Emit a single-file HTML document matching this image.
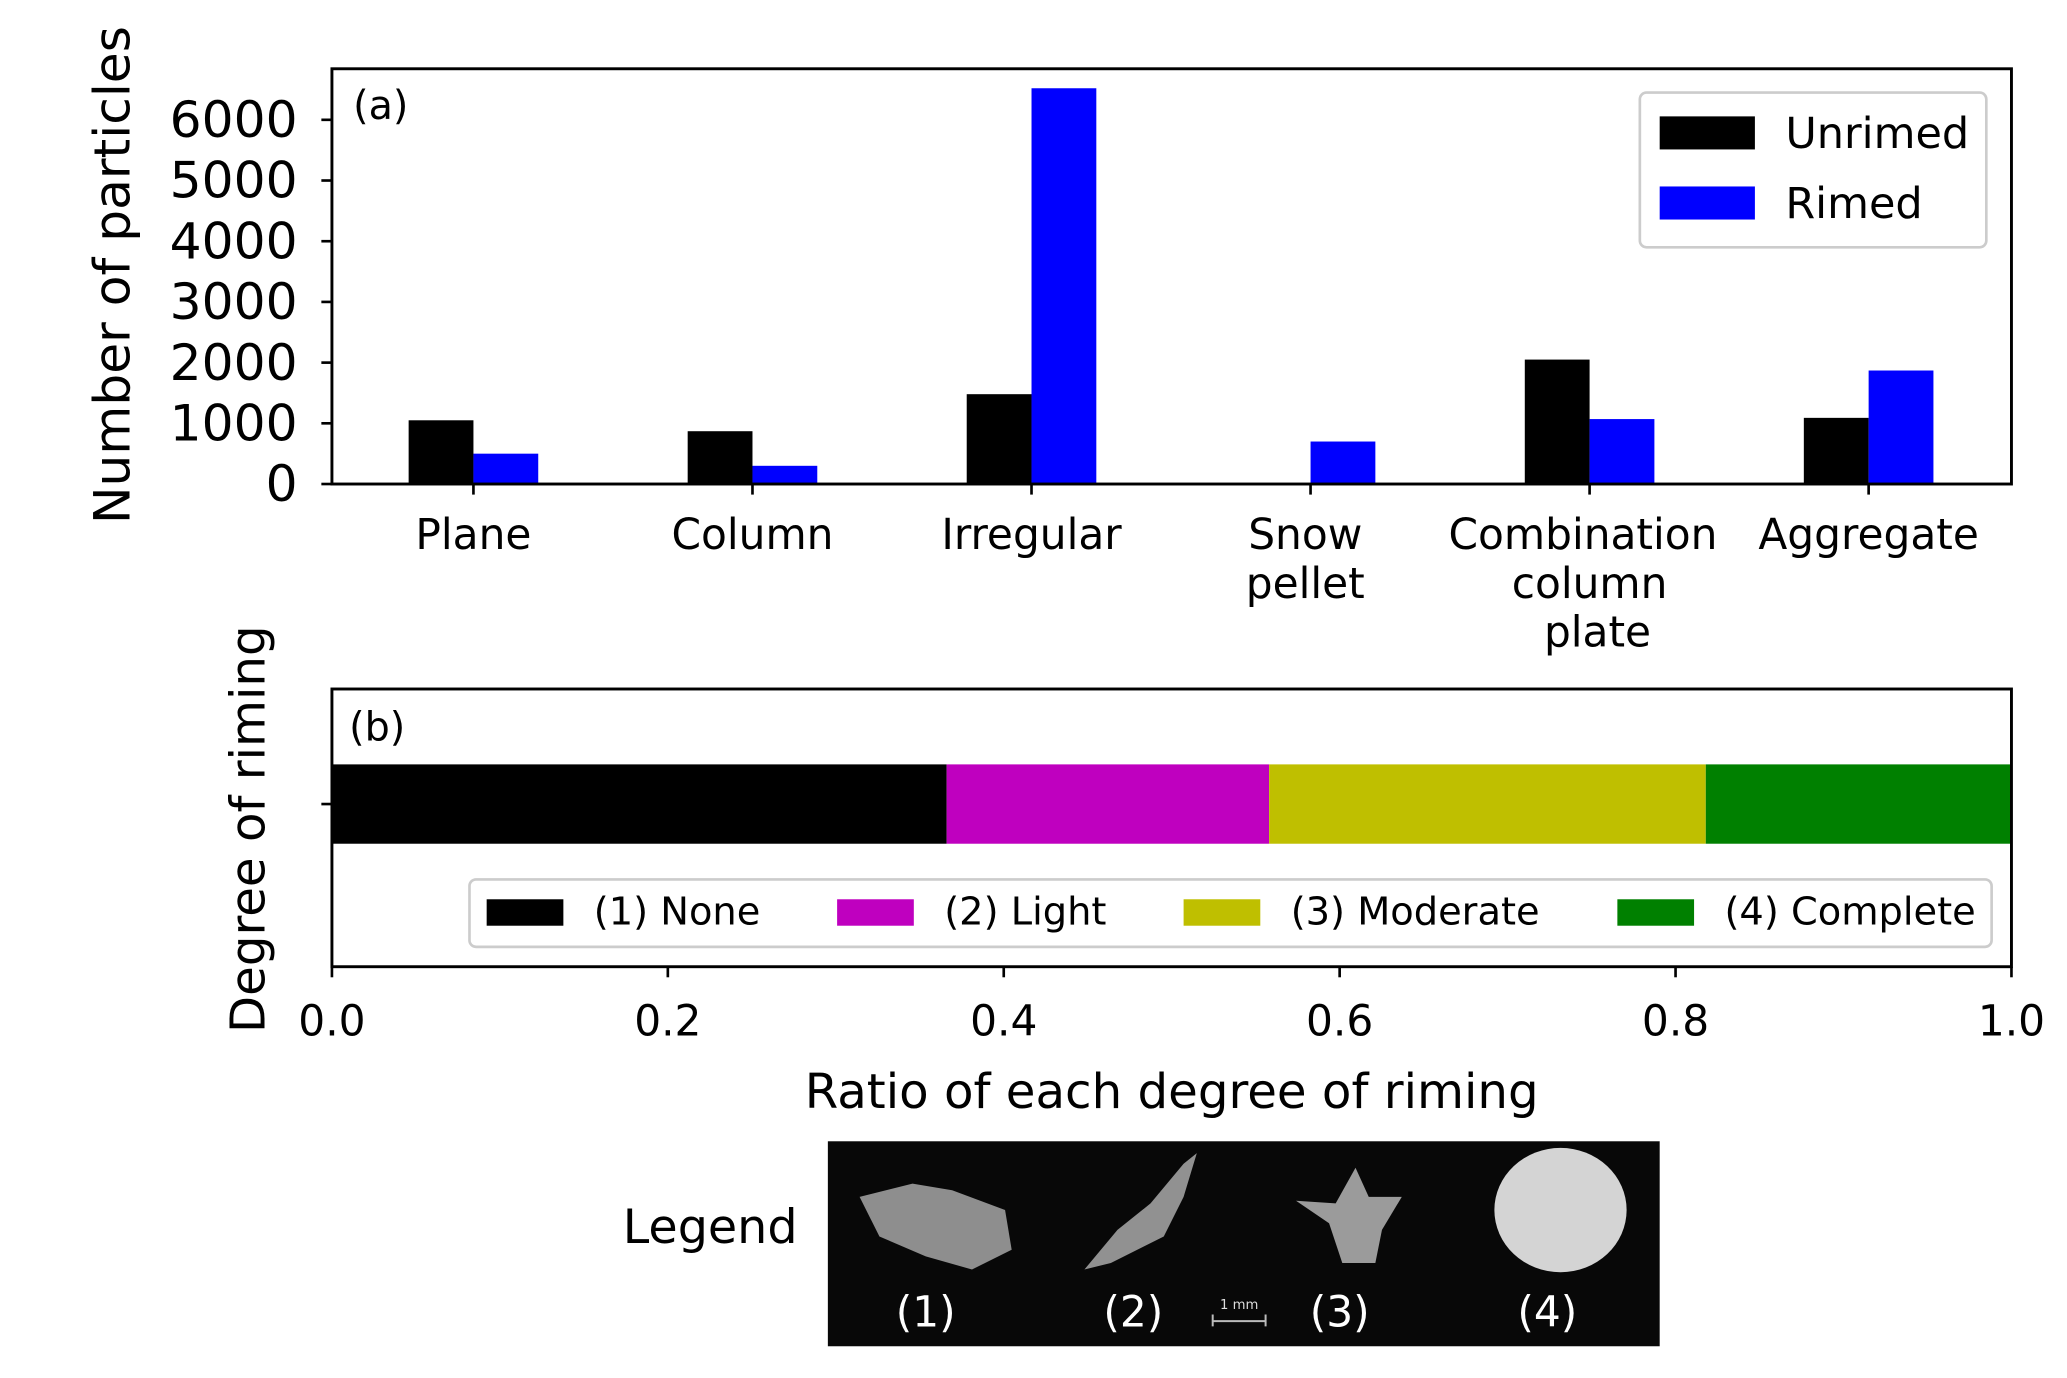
<!DOCTYPE html>
<html><head><meta charset="utf-8"><style>
html,body{margin:0;padding:0;background:#fff;}
svg{display:block;font-family:"DejaVu Sans","Liberation Sans",sans-serif;}
</style></head><body>
<svg id="chart" width="2067" height="1378" viewBox="0 0 1563 1042">
<g id="pa"></g>
<g id="pb"></g>
<g>
<text x="537" y="940" font-size="36" text-anchor="middle">Legend</text>
<rect x="626" y="863" width="629" height="155" fill="#080808"/>
<path d="M650 905 L690 895 L720 900 L760 915 L765 945 L735 960 L700 950 L665 935 Z" fill="#bbb" opacity="0.75"/>
<path d="M905 872 L895 905 L880 935 L840 955 L820 960 L845 930 L870 910 L895 880 Z" fill="#ccc" opacity="0.7"/>
<path d="M1025 883 L1035 905 L1060 905 L1045 930 L1040 955 L1015 955 L1005 925 L980 908 L1010 910 Z" fill="#ccc" opacity="0.75"/>
<ellipse cx="1180" cy="915" rx="50" ry="47" fill="#d4d4d4"/>
<g fill="#fff" font-size="32" text-anchor="middle">
<text x="700" y="1003">(1)</text>
<text x="857" y="1003">(2)</text>
<text x="1013" y="1003">(3)</text>
<text x="1170" y="1003">(4)</text>
</g>
<text x="937" y="990" fill="#ddd" font-size="10" text-anchor="middle">1 mm</text>
<path d="M917 999 H957 M917 994 V1003 M957 994 V1003" stroke="#bbb" stroke-width="1.5"/>
</g>
</svg>
<script>
const categories=["Plane","Column","Irregular","Snow\npellet","Combination\ncolumn\nplate","Aggregate"];
const unrimed=[1050,870,1480,0,2050,1090];
const rimed=[500,300,6520,700,1070,1870];
const yTicks=[0,1000,2000,3000,4000,5000,6000];
const degrees=["(1) None","(2) Light","(3) Moderate","(4) Complete"];
const ratios=[0.366,0.192,0.260,0.182];
const xTicks=["0.0","0.2","0.4","0.6","0.8","1.0"];
const degColors=["#000000","#bf00bf","#bfbf00","#008000"];
const NS="http://www.w3.org/2000/svg";
function mk(p,t,a,txt){const e=document.createElementNS(NS,t);for(const k in a)e.setAttribute(k,a[k]);if(txt!==undefined)e.textContent=txt;p.appendChild(e);return e;}
const pa=document.getElementById('pa');
const ax={l:251,r:1521,t:52,b:366};
const ya=v=>ax.b-v*0.0459;
const xc=i=>358+i*211.0;
const bw=49;
yTicks.forEach(v=>{
 const t=mk(pa,'line',{x1:ax.l-8,x2:ax.l,y1:ya(v),y2:ya(v),stroke:'#000','stroke-width':2});
 
 const l=mk(pa,'text',{x:ax.l-26,y:ya(v)+13,'font-size':38,'text-anchor':'end'},String(v));
 
});
categories.forEach((c,i)=>{
 const b1=mk(pa,'rect',{x:xc(i)-bw,y:ya(unrimed[i]),width:bw,height:ax.b-ya(unrimed[i]),fill:'#000'});
 
 const b2=mk(pa,'rect',{x:xc(i),y:ya(rimed[i]),width:bw,height:ax.b-ya(rimed[i]),fill:'#0000ff'});
 
 const t=mk(pa,'line',{x1:xc(i),x2:xc(i),y1:ax.b,y2:ax.b+8,stroke:'#000','stroke-width':2});
 
 c.split('\n').forEach((ln,j)=>{
  const l=mk(pa,'text',{x:xc(i)+(i===4?(j===0?-5:(j===2?6:0)):(i===3?-4:0)),y:415+j*37,'font-size':32,'text-anchor':'middle'},ln);
  
 });
});
const fa=mk(pa,'rect',{x:ax.l,y:ax.t,width:ax.r-ax.l,height:ax.b-ax.t,fill:'none',stroke:'#000','stroke-width':2.2});

const la=mk(pa,'text',{x:267,y:90,'font-size':30},'(a)');

const yl=mk(pa,'text',{x:0,y:0,'font-size':38,'text-anchor':'middle',transform:'translate(98,208) rotate(-90)'},'Number of particles');

const lg=mk(pa,'g',{});

mk(lg,'rect',{x:1240,y:70,width:262,height:117,rx:5,fill:'#fff',stroke:'#ccc','stroke-width':2});
[["Unrimed","#000"],["Rimed","#0000ff"]].forEach((s,k)=>{
 const e=mk(lg,'rect',{x:1255,y:88+k*53,width:72,height:25,fill:s[1]});
 
 const t=mk(lg,'text',{x:1350,y:112+k*53,'font-size':32.5},s[0]);
 
});
const pb=document.getElementById('pb');
const bx={l:251,r:1521,t:521,b:731};
const xb=v=>bx.l+v*(bx.r-bx.l);
let cum=0;
ratios.forEach((r,i)=>{
 const s=mk(pb,'rect',{x:xb(cum),y:578,width:xb(cum+r)-xb(cum),height:60,fill:degColors[i]});
 
 cum+=r;
});
xTicks.forEach((v,i)=>{
 const x=xb(i/(xTicks.length-1));
 const t=mk(pb,'line',{x1:x,x2:x,y1:bx.b,y2:bx.b+8,stroke:'#000','stroke-width':2});
 
 const l=mk(pb,'text',{x:x,y:783,'font-size':32,'text-anchor':'middle'},v);
 
});
const yt=mk(pb,'line',{x1:bx.l-8,x2:bx.l,y1:608,y2:608,stroke:'#000','stroke-width':2});

const fb=mk(pb,'rect',{x:bx.l,y:bx.t,width:bx.r-bx.l,height:bx.b-bx.t,fill:'none',stroke:'#000','stroke-width':2.2});

const lb=mk(pb,'text',{x:264,y:560,'font-size':30},'(b)');

const xl=mk(pb,'text',{x:886,y:838,'font-size':36.5,'text-anchor':'middle'},'Ratio of each degree of riming');

const yl2=mk(pb,'text',{x:0,y:0,'font-size':36.5,'text-anchor':'middle',transform:'translate(200,627) rotate(-90)'},'Degree of riming');

const lg2=mk(pb,'g',{});

mk(lg2,'rect',{x:355,y:665,width:1151,height:51,rx:5,fill:'#fff',stroke:'#ccc','stroke-width':2});
const lx=[368,633,895,1223];
degrees.forEach((d,i)=>{
 const e=mk(lg2,'rect',{x:lx[i],y:680,width:58,height:20,fill:degColors[i]});
 
 const t=mk(lg2,'text',{x:lx[i]+81,y:699,'font-size':29},d);
 
});
</script>
</body></html>
